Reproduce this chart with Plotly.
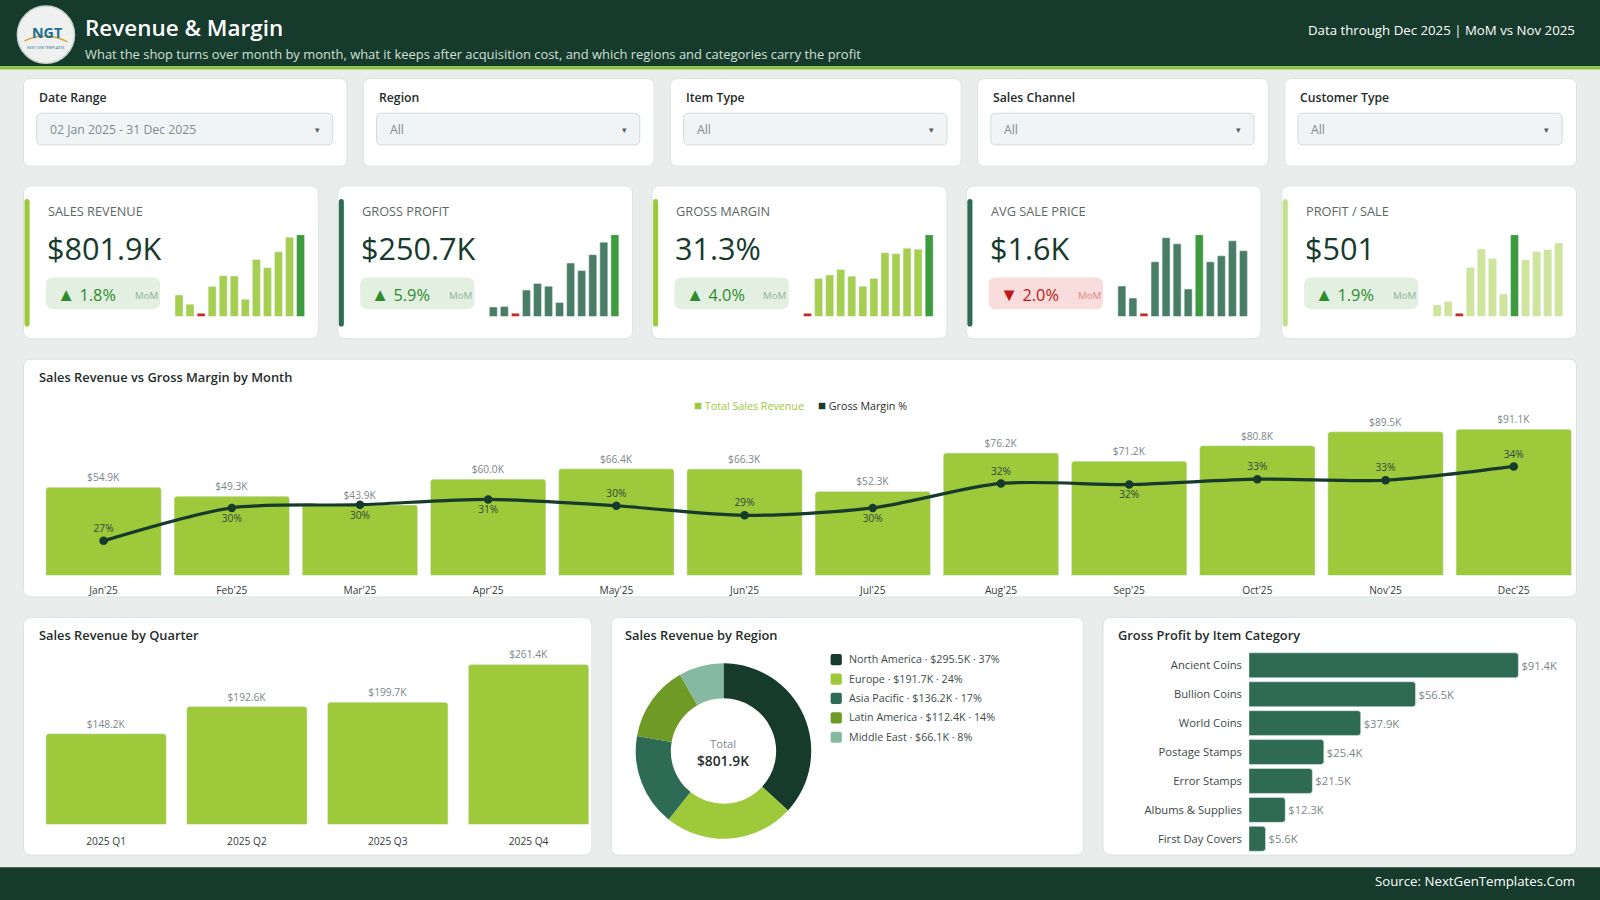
import plotly.graph_objects as go

# ---- values ----
months = ["Jan'25", "Feb'25", "Mar'25", "Apr'25", "May'25", "Jun'25",
          "Jul'25", "Aug'25", "Sep'25", "Oct'25", "Nov'25", "Dec'25"]
revenue_k = [54.9, 49.3, 43.9, 60.0, 66.4, 66.3, 52.3, 76.2, 71.2, 80.8, 89.5, 91.1]
margin_pct = [27.0, 30.1, 30.4, 30.9, 30.3, 29.4, 30.1, 32.4, 32.3, 32.8, 32.7, 34.0]
gross_profit_k = [14.7, 14.8, 13.3, 18.5, 20.0, 19.4, 15.7, 24.6, 22.9, 26.5, 29.3, 31.0]
avg_price_k = [1.52, 1.48, 1.43, 1.60, 1.68, 1.66, 1.51, 1.69, 1.60, 1.62, 1.67, 1.637]
profit_per_sale = [457, 462, 445, 512, 539, 525, 473, 560, 523, 535, 538, 548]

kpi_labels = ["SALES REVENUE", "GROSS PROFIT", "GROSS MARGIN", "AVG SALE PRICE", "PROFIT / SALE"]
kpi_values = ["$801.9K", "$250.7K", "31.3%", "$1.6K", "$501"]
kpi_mom = [1.8, 5.9, 4.0, -2.0, 1.9]

quarters = ["2025 Q1", "2025 Q2", "2025 Q3", "2025 Q4"]
quarter_rev_k = [148.2, 192.6, 199.7, 261.4]

regions = ["North America", "Europe", "Asia Pacific", "Latin America", "Middle East"]
region_rev_k = [295.5, 191.7, 136.2, 112.4, 66.1]

categories = ["Ancient Coins", "Bullion Coins", "World Coins", "Postage Stamps",
              "Error Stamps", "Albums & Supplies", "First Day Covers"]
category_gp_k = [91.4, 56.5, 37.9, 25.4, 21.5, 12.3, 5.6]

filter_names = ["Date Range", "Region", "Item Type", "Sales Channel", "Customer Type"]
filter_values = ["02 Jan 2025 - 31 Dec 2025", "All", "All", "All", "All"]

# ---- styling ----
FONT = "Open Sans"
DARK = "#163a2c"
LIME = "#9dc93b"
FOREST = "#2f6b52"
RED = "#c62828"
HILITE = "#3d9a3d"
BG = "#e9edeb"
INK = "#1f2d2a"
GREY = "#7b868a"

# layout measured on a 1568x882 grid, scaled to the 1600x900 page
W, H = 1568, 882
S = 1600 / W


def px(x):
    return x / W


def py(y):
    return 1 - y / H


shapes = []
annotations = []


def rrect(x0, y0, x1, y1, r=6, fill="white", line="#dce3e0", lw=1):
    rx, ry = r / W, r / H
    X0, X1, Y0, Y1 = px(x0), px(x1), py(y0), py(y1)
    path = (f"M {X0+rx},{Y0} L {X1-rx},{Y0} Q {X1},{Y0} {X1},{Y0-ry} "
            f"L {X1},{Y1+ry} Q {X1},{Y1} {X1-rx},{Y1} L {X0+rx},{Y1} "
            f"Q {X0},{Y1} {X0},{Y1+ry} L {X0},{Y0-ry} Q {X0},{Y0} {X0+rx},{Y0} Z")
    shapes.append(dict(type="path", path=path, xref="paper", yref="paper",
                       fillcolor=fill, line=dict(color=line, width=lw), layer="below"))


def text(x, y, s, size, color=INK, anchor="left", weight="normal"):
    annotations.append(dict(x=px(x), y=py(y), xref="paper", yref="paper", text=s,
                            showarrow=False, xanchor=anchor, yanchor="middle",
                            font=dict(family=FONT, size=size * S, color=color, weight=weight)))


# header / footer bands
shapes.append(dict(type="rect", xref="paper", yref="paper", x0=0, x1=1, y0=py(65), y1=1,
                   fillcolor=DARK, line_width=0, layer="below"))
shapes.append(dict(type="rect", xref="paper", yref="paper", x0=0, x1=1, y0=py(68), y1=py(65),
                   fillcolor="#8cc63f", line_width=0, layer="below"))
shapes.append(dict(type="rect", xref="paper", yref="paper", x0=0, x1=1, y0=0, y1=py(850),
                   fillcolor=DARK, line_width=0, layer="below"))

# logo
shapes.append(dict(type="circle", xref="paper", yref="paper", x0=px(17), x1=px(73),
                   y0=py(62), y1=py(6), fillcolor="#eef1f0",
                   line=dict(color="#c9d3cf", width=1.5), layer="below"))
shapes.append(dict(type="path", xref="paper", yref="paper", layer="below",
                   path=f"M {px(24)},{py(40)} Q {px(45)},{py(30)} {px(66)},{py(41)}",
                   line=dict(color="#d9a43a", width=1.5)))
text(46, 32, "<b>NGT</b>", 14, "#1c6e8c", "center")
text(45, 47, "NEXT GEN TEMPLATES", 3.5, "#1c6e8c", "center")

text(81, 27, "Revenue & Margin", 22, "white", weight=600)
text(81, 53, "What the shop turns over month by month, what it keeps after acquisition cost, "
     "and which regions and categories carry the profit", 12.7, "#cfe0d6")
text(1545, 29, "Data through Dec 2025 | MoM vs Nov 2025", 13, "white", "right")
text(1545, 863, "Source: NextGenTemplates.Com", 13, "white", "right")

# filter cards
filter_x = [(23, 340), (356, 641), (657, 942), (958, 1243), (1259, 1545)]
for (x0, x1), name, val in zip(filter_x, filter_names, filter_values):
    rrect(x0, 77, x1, 163, r=7)
    text(x0 + 13, 96, name, 12, INK, weight=600)
    rrect(x0 + 13, 111, x1 - 14, 142, r=5, fill="#f1f4f5", line="#d3dadc")
    text(x0 + 24, 127, val, 12, "#7d8b90")
    text(x1 - 29, 127, "▾", 9, "#555f62", "center")

# KPI cards
kpi_x = [23, 331, 639, 947, 1256]
kpi_w = 289
accent = [LIME, FOREST, LIME, FOREST, "#c5e08c"]
spark_base = ["#a6cf4f", "#4a7d66", "#a6cf4f", "#4a7d66", "#cfe59a"]
spark_series = [revenue_k, gross_profit_k, margin_pct, avg_price_k, profit_per_sale]

fig = go.Figure()

for i, x0 in enumerate(kpi_x):
    rrect(x0, 182, x0 + kpi_w, 332, r=8)
    rrect(x0 + 1, 195, x0 + 6, 320, r=2.5, fill=accent[i], line=accent[i], lw=0)
    text(x0 + 22, 207, kpi_labels[i], 12.5, "#5a6864")
    text(x0 + 21, 243, kpi_values[i], 30, DARK)
    up = kpi_mom[i] >= 0
    rrect(x0 + 22, 272, x0 + 134, 303, r=7,
          fill="#e3f0e1" if up else "#f9dcdc", line="rgba(0,0,0,0)", lw=0)
    arrow = "▲" if up else "▼"
    text(x0 + 31, 288, f"<span style='font-size:{18 * S:.1f}px'>{arrow}</span> "
         f"{abs(kpi_mom[i]):.1f}%", 16, "#2e8b2e" if up else "#c01818")
    text(x0 + 107, 290, "MoM", 9.5, "#8fb39a" if up else "#d98a8a")

    vals = spark_series[i]
    lo, hi = min(vals), max(vals)
    colors = [RED if v == lo else HILITE if v == hi else spark_base[i] for v in vals]
    n = i + 1
    fig.add_trace(go.Bar(x=months, y=vals, marker=dict(color=colors, cornerradius=1),
                         width=0.72, xaxis=f"x{n}", yaxis=f"y{n}", hoverinfo="skip",
                         showlegend=False))
    fig.update_layout(**{
        f"xaxis{n}": dict(domain=[px(x0 + 147), px(x0 + 277)], anchor=f"y{n}", visible=False,
                          range=[-0.5, 11.5], fixedrange=True),
        f"yaxis{n}": dict(domain=[py(310), py(230)], anchor=f"x{n}", visible=False,
                          range=[lo - (hi - lo) * 0.04, hi], fixedrange=True),
    })

# monthly revenue vs margin
rrect(23, 352, 1545, 585, r=8)
text(36, 369, "Sales Revenue vs Gross Margin by Month", 12.6, INK, weight=600)
text(678, 397, f"<span style='color:{LIME};font-size:{13 * S:.1f}px'>■</span> Total Sales Revenue",
     10.5, LIME)
text(800, 397, f"<span style='color:{DARK};font-size:{13 * S:.1f}px'>■</span> Gross Margin %",
     10.5, INK)

fig.add_trace(go.Bar(
    x=months, y=revenue_k, marker=dict(color=LIME, cornerradius=3), width=0.9,
    text=[f"${v:.1f}K" for v in revenue_k], textposition="outside", cliponaxis=False,
    textfont=dict(family=FONT, size=10 * S, color=GREY),
    xaxis="x6", yaxis="y6", hoverinfo="skip", showlegend=False))
label_pos = ["top center", "bottom center", "bottom center", "bottom center", "top center",
             "top center", "bottom center", "top center", "bottom center", "top center",
             "top center", "top center"]
fig.add_trace(go.Scatter(
    x=months, y=margin_pct, mode="lines+markers+text",
    line=dict(color=DARK, width=3.2, shape="spline", smoothing=0.8),
    marker=dict(color=DARK, size=8.5),
    text=[f"{v:.0f}%" for v in margin_pct], textposition=label_pos, cliponaxis=False,
    textfont=dict(family=FONT, size=10 * S, color="#2f4a3c"),
    xaxis="x6", yaxis="y7", hoverinfo="skip", showlegend=False))

fig.update_layout(
    xaxis6=dict(domain=[px(38.7), px(1546.3)], anchor="y6", range=[-0.5, 11.5],
                showgrid=False, showline=False, ticks="", ticklabelstandoff=7,
                tickfont=dict(family=FONT, size=10 * S, color="#2f3b38"), fixedrange=True),
    yaxis6=dict(domain=[py(564), py(405)], anchor="x6", range=[0, 101], visible=False,
                fixedrange=True),
    yaxis7=dict(overlaying="y6", anchor="x6", range=[23.74, 39.0], visible=False,
                fixedrange=True),
)

# quarters
rrect(23, 605, 580, 838, r=8)
text(36, 622, "Sales Revenue by Quarter", 12.6, INK, weight=600)
fig.add_trace(go.Bar(
    x=quarters, y=quarter_rev_k, marker=dict(color=LIME, cornerradius=3), width=0.855,
    text=[f"${v:.1f}K" for v in quarter_rev_k], textposition="outside", cliponaxis=False,
    textfont=dict(family=FONT, size=10 * S, color=GREY),
    xaxis="x8", yaxis="y8", hoverinfo="skip", showlegend=False))
fig.update_layout(
    xaxis8=dict(domain=[px(35), px(587)], anchor="y8", range=[-0.5, 3.5], showgrid=False,
                showline=False, ticks="", ticklabelstandoff=9,
                tickfont=dict(family=FONT, size=10 * S, color="#2f3b38"), fixedrange=True),
    yaxis8=dict(domain=[py(808), py(634)], anchor="x8", range=[0, 290], visible=False,
                fixedrange=True),
)

# regions donut
rrect(599, 605, 1062, 838, r=8)
text(611, 622, "Sales Revenue by Region", 12.6, INK, weight=600)
region_colors = [DARK, LIME, "#2e6b54", "#6e9a25", "#86b9a1"]
fig.add_trace(go.Pie(
    labels=regions, values=region_rev_k, hole=0.6, sort=False, direction="clockwise",
    marker=dict(colors=region_colors, line=dict(width=0)), textinfo="none",
    domain=dict(x=[px(623), px(795)], y=[py(822), py(650)]),
    hoverinfo="skip", showlegend=False))
total = sum(region_rev_k)
text(709, 729, "Total", 11, "#7d8b90", "center")
text(709, 745, f"${total:.1f}K", 13.5, INK, "center", weight=600)
for j, (name, v) in enumerate(zip(regions, region_rev_k)):
    yy = 646 + j * 19
    rrect(814, yy - 5, 825, yy + 6, r=2, fill=region_colors[j], line=region_colors[j], lw=0)
    text(830, yy, f"{name} · ${v:.1f}K · {v / total * 100:.0f}%", 10.5, "#3c4a46")

# categories
rrect(1081, 605, 1545, 838, r=8)
text(1094, 622, "Gross Profit by Item Category", 12.6, INK, weight=600)
fig.add_trace(go.Bar(
    y=categories, x=category_gp_k, orientation="h", width=0.86,
    marker=dict(color=FOREST, cornerradius=3),
    text=[f"${v:.1f}K" for v in category_gp_k], textposition="outside", cliponaxis=False,
    textfont=dict(family=FONT, size=11 * S, color=GREY),
    xaxis="x9", yaxis="y9", hoverinfo="skip", showlegend=False))
fig.update_layout(
    xaxis9=dict(domain=[px(1224), px(1540)], anchor="y9", range=[0, 109.4], visible=False,
                fixedrange=True),
    yaxis9=dict(domain=[py(836.2), py(637.8)], anchor="x9", autorange="reversed",
                showgrid=False, showline=False, ticks="", ticklabelstandoff=6,
                tickfont=dict(family=FONT, size=11 * S, color="#3a4744"), fixedrange=True),
)

fig.update_layout(
    width=1600, height=900, autosize=False,
    margin=dict(l=0, r=0, t=0, b=0),
    paper_bgcolor=BG, plot_bgcolor="rgba(0,0,0,0)",
    font=dict(family=FONT, color=INK),
    shapes=shapes, annotations=annotations,
)

fig.write_html("out.html", config={"displayModeBar": False},
               post_script="document.body.style.margin='0';document.body.style.overflow='hidden';")
